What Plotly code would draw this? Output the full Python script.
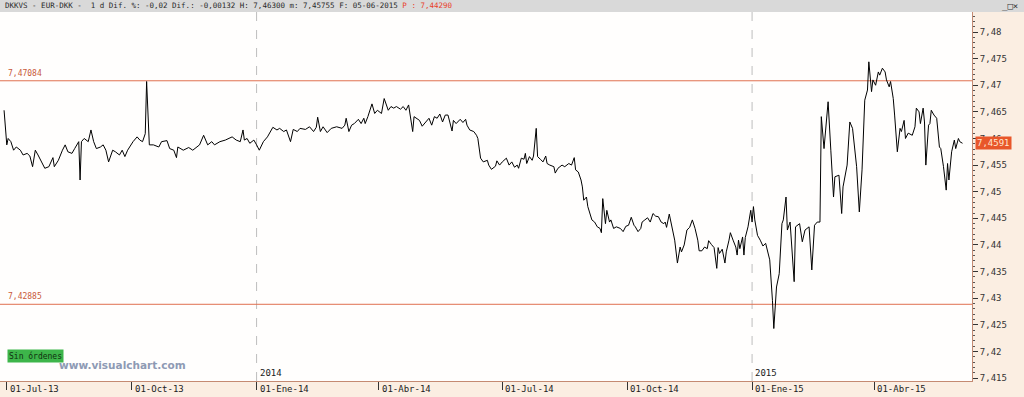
import pandas as pd
import plotly.graph_objects as go

# ---------------- data ----------------
start_date = "2013-07-01"
day_offsets = [
    -2, 0, 1, 3, 5, 7, 10, 12, 15, 17, 19, 21, 23, 26, 28, 31, 34, 35, 38, 41,
    43, 45, 48, 50, 53, 54, 55, 57, 60, 62, 64, 66, 69, 71, 73, 75, 78, 80, 83, 85,
    87, 89, 93, 96, 98, 100, 102, 103, 105, 108, 112, 114, 118, 120, 123, 125, 126, 130, 134, 137,
    140, 142, 145, 148, 151, 153, 157, 161, 166, 169, 172, 174, 175, 177, 179, 182, 184, 186, 189, 192,
    196, 199, 201, 204, 206, 209, 211, 214, 216, 220, 223, 226, 228, 229, 231, 233, 236, 239, 243, 247,
    249, 250, 252, 254, 256, 259, 261, 263, 264, 266, 269, 271, 273, 276, 278, 281, 283, 285, 287, 290,
    292, 294, 296, 298, 299, 300, 302, 304, 306, 309, 311, 313, 315, 317, 319, 321, 323, 325, 328, 329,
    331, 334, 336, 338, 339, 341, 344, 346, 347, 349, 351, 354, 355, 357, 360, 361, 363, 365, 368, 370,
    372, 374, 376, 377, 379, 381, 382, 383, 385, 387, 388, 390, 391, 393, 395, 397, 398, 400, 403, 404,
    406, 409, 411, 414, 416, 418, 419, 421, 423, 424, 425, 427, 428, 431, 433, 435, 437, 438, 439, 441,
    442, 444, 445, 447, 449, 452, 454, 456, 458, 460, 462, 463, 465, 467, 468, 470, 472, 474, 476, 478,
    480, 482, 484, 485, 486, 488, 490, 492, 494, 496, 497, 499, 501, 503, 505, 507, 509, 510, 512, 514,
    516, 517, 519, 521, 523, 524, 525, 527, 529, 530, 532, 533, 535, 537, 538, 539, 540, 542, 543, 544,
    546, 548, 549, 550, 551, 553, 555, 557, 559, 561, 562, 564, 565, 567, 569, 571, 572, 574, 575, 577,
    580, 581, 584, 586, 588, 591, 593, 595, 597, 599, 600, 602, 605, 607, 609, 610, 613, 615, 616, 619,
    621, 623, 626, 628, 630, 632, 634, 635, 637, 638, 640, 642, 643, 645, 647, 648, 650, 651, 653, 654,
    656, 658, 659, 661, 662, 664, 667, 669, 670, 672, 673, 675, 676, 677, 679, 680, 681, 683, 685, 687,
    688, 690, 692, 693, 694, 696, 698, 699, 701, 702, 704,
]
prices = [
    7.4653, 7.4588, 7.4600, 7.4594, 7.4578, 7.4584, 7.4578, 7.4569, 7.4572, 7.4567,
    7.4547, 7.4578, 7.4569, 7.4553, 7.4544, 7.4547, 7.4564, 7.4547, 7.4559, 7.4578,
    7.4588, 7.4575, 7.4572, 7.4581, 7.4594, 7.4522, 7.4594, 7.4600, 7.4594, 7.4616,
    7.4594, 7.4581, 7.4584, 7.4588, 7.4578, 7.4556, 7.4578, 7.4575, 7.4569, 7.4578,
    7.4566, 7.4578, 7.4594, 7.4603, 7.4597, 7.4594, 7.4609, 7.4707, 7.4588, 7.4588,
    7.4584, 7.4594, 7.4596, 7.4581, 7.4578, 7.4564, 7.4584, 7.4578, 7.4583, 7.4578,
    7.4584, 7.4588, 7.4606, 7.4588, 7.4594, 7.4588, 7.4594, 7.4597, 7.4603, 7.4597,
    7.4594, 7.4616, 7.4597, 7.4600, 7.4591, 7.4597, 7.4588, 7.4578, 7.4594, 7.4603,
    7.4621, 7.4616, 7.4619, 7.4613, 7.4616, 7.4594, 7.4617, 7.4613, 7.4619, 7.4617,
    7.4622, 7.4613, 7.4621, 7.4640, 7.4613, 7.4622, 7.4611, 7.4619, 7.4622, 7.4619,
    7.4625, 7.4638, 7.4613, 7.4625, 7.4628, 7.4636, 7.4628, 7.4638, 7.4628, 7.4641,
    7.4665, 7.4647, 7.4653, 7.4647, 7.4675, 7.4653, 7.4660, 7.4657, 7.4660, 7.4655,
    7.4660, 7.4653, 7.4663, 7.4628, 7.4613, 7.4641, 7.4638, 7.4634, 7.4623, 7.4631,
    7.4638, 7.4625, 7.4641, 7.4638, 7.4646, 7.4631, 7.4644, 7.4644, 7.4614, 7.4634,
    7.4628, 7.4636, 7.4630, 7.4636, 7.4625, 7.4616, 7.4613, 7.4606, 7.4600, 7.4563,
    7.4556, 7.4559, 7.4550, 7.4542, 7.4548, 7.4558, 7.4550, 7.4556, 7.4563, 7.4550,
    7.4556, 7.4546, 7.4550, 7.4544, 7.4563, 7.4561, 7.4572, 7.4553, 7.4566, 7.4559,
    7.4567, 7.4619, 7.4566, 7.4561, 7.4556, 7.4567, 7.4553, 7.4550, 7.4547, 7.4535,
    7.4544, 7.4550, 7.4547, 7.4553, 7.4550, 7.4564, 7.4541, 7.4537, 7.4522, 7.4509,
    7.4484, 7.4490, 7.4472, 7.4447, 7.4443, 7.4434, 7.4431, 7.4423, 7.4487, 7.4440,
    7.4465, 7.4443, 7.4447, 7.4431, 7.4434, 7.4431, 7.4425, 7.4435, 7.4437, 7.4452,
    7.4437, 7.4434, 7.4425, 7.4431, 7.4443, 7.4447, 7.4451, 7.4443, 7.4459, 7.4454,
    7.4453, 7.4443, 7.4440, 7.4443, 7.4433, 7.4458, 7.4431, 7.4409, 7.4366, 7.4396,
    7.4387, 7.4400, 7.4428, 7.4433, 7.4447, 7.4431, 7.4409, 7.4389, 7.4389, 7.4396,
    7.4393, 7.4408, 7.4401, 7.4395, 7.4356, 7.4395, 7.4384, 7.4392, 7.4366, 7.4387,
    7.4409, 7.4423, 7.4409, 7.4396, 7.4381, 7.4409, 7.4393, 7.4415, 7.4381, 7.4414,
    7.4434, 7.4465, 7.4443, 7.4472, 7.4447, 7.4418, 7.4409, 7.4398, 7.4403, 7.4381,
    7.4372, 7.4296, 7.4243, 7.4321, 7.4346, 7.4440, 7.4447, 7.4490, 7.4428, 7.4443,
    7.4331, 7.4434, 7.4440, 7.4406, 7.4428, 7.4434, 7.4353, 7.4437, 7.4443, 7.4443,
    7.4641, 7.4581, 7.4669, 7.4578, 7.4490, 7.4528, 7.4531, 7.4459, 7.4509, 7.4550,
    7.4631, 7.4619, 7.4547, 7.4462, 7.4541, 7.4672, 7.4691, 7.4744, 7.4688, 7.4710,
    7.4700, 7.4725, 7.4719, 7.4732, 7.4725, 7.4710, 7.4697, 7.4707, 7.4675, 7.4644,
    7.4575, 7.4619, 7.4613, 7.4634, 7.4600, 7.4610, 7.4606, 7.4622, 7.4657, 7.4650,
    7.4628, 7.4657, 7.4631, 7.4550, 7.4625, 7.4628, 7.4653, 7.4644, 7.4638, 7.4584,
    7.4581, 7.4547, 7.4503, 7.4553, 7.4522, 7.4575, 7.4597, 7.4581, 7.4600, 7.4594,
    7.4591,
]

level_values = [7.47084, 7.42885]
level_labels = ["7,47084", "7,42885"]
last_price = 7.4591
last_price_label = "7,4591"

x_tick_dates = ["2013-07-01", "2013-10-01", "2014-01-01", "2014-04-01",
                "2014-07-01", "2014-10-01", "2015-01-01", "2015-04-01"]
x_tick_labels = ["01-Jul-13", "01-Oct-13", "01-Ene-14", "01-Abr-14",
                 "01-Jul-14", "01-Oct-14", "01-Ene-15", "01-Abr-15"]
year_dates = ["2014-01-01", "2015-01-01"]
year_labels = ["2014", "2015"]

y_tick_values = [7.415, 7.42, 7.425, 7.43, 7.435, 7.44, 7.445, 7.45, 7.455,
                 7.46, 7.465, 7.47, 7.475, 7.48]
y_tick_labels = ["7,415", "7,42", "7,425", "7,43", "7,435", "7,44", "7,445",
                 "7,45", "7,455", "7,46", "7,465", "7,47", "7,475", "7,48"]

header_text = ("DKKVS - EUR-DKK -\u00a0 1 d Dif. %: -0,02 Dif.: -0,00132 H: 7,46300 "
               "m: 7,45755 F: 05-06-2015 ")
header_price = "P : 7,44290"

# ---------------- figure ----------------
dates = pd.Timestamp(start_date) + pd.to_timedelta(day_offsets, unit="D")

W, H = 1024, 397
ML, MR, MT, MB = 0, 52, 12, 16
PW, PH = W - ML - MR, H - MT - MB

MONO = "DejaVu Sans Mono"
AXIS_COL = "#C48A72"
LEVEL_COL = "#E07050"
PEACH = "#FBEEE2"

fig = go.Figure()
fig.add_trace(go.Scatter(x=dates, y=prices, mode="lines",
                         line=dict(color="#000000", width=1),
                         hoverinfo="skip", showlegend=False))

shapes = []
annotations = []

# title bar
shapes.append(dict(type="rect", xref="paper", yref="paper", x0=-0.01, x1=W / PW + 0.01,
                   y0=1, y1=1 + MT / PH, fillcolor="#D9D9D9", line=dict(width=0), layer="above"))
annotations.append(dict(xref="paper", yref="paper", x=3 / PW, y=1 + (MT / 2) / PH,
                        xanchor="left", yanchor="middle", showarrow=False,
                        text=header_text + "<span style='color:#E8402A'>" + header_price + "</span>",
                        font=dict(family=MONO, size=7.5, color="#2A2A2A")))
annotations.append(dict(xref="paper", yref="paper", x=(W - 4) / PW, y=1 + (MT / 2) / PH,
                        xanchor="right", yanchor="middle", showarrow=False,
                        text="_□×", font=dict(family=MONO, size=9, color="#333333")))

# year separators
for d, lab in zip(year_dates, year_labels):
    shapes.append(dict(type="line", xref="x", yref="paper", x0=d, x1=d, y0=0, y1=1,
                       line=dict(color="#BDBDBD", width=1, dash="dash"), layer="below"))
    annotations.append(dict(xref="x", yref="paper", x=d, y=0.003, xanchor="left",
                            yanchor="bottom", xshift=1, showarrow=False, text=lab,
                            font=dict(family=MONO, size=9, color="#222222")))

# level lines
for v, lab in zip(level_values, level_labels):
    shapes.append(dict(type="line", xref="paper", yref="y", x0=0, x1=1, y0=v, y1=v,
                       line=dict(color=LEVEL_COL, width=1), layer="below"))
    annotations.append(dict(xref="paper", yref="y", x=6 / PW, y=v, xanchor="left",
                            yanchor="bottom", yshift=1, showarrow=False, text=lab,
                            font=dict(family=MONO, size=8, color="#C85A3A")))

# x tick labels (left aligned after the tick)
for d, lab in zip(x_tick_dates, x_tick_labels):
    annotations.append(dict(xref="x", yref="paper", x=d, y=-8 / PH, xanchor="left",
                            yanchor="middle", xshift=1, showarrow=False, text=lab,
                            font=dict(family=MONO, size=9, color="#222222")))

# last price box
annotations.append(dict(xref="paper", yref="y", x=1 + 3 / PW, y=last_price, xanchor="left",
                        yanchor="middle", showarrow=False, text=last_price_label,
                        bgcolor="#E8562A", borderpad=1,
                        font=dict(family=MONO, size=9, color="#FFE6D0")))

# status box and watermark
annotations.append(dict(xref="paper", yref="paper", x=7 / PW, y=(H - MB - 356) / PH,
                        xanchor="left", yanchor="middle", showarrow=False, text="Sin órdenes",
                        bgcolor="#3DB54A", borderpad=1,
                        font=dict(family=MONO, size=8, color="#10300F")))
annotations.append(dict(xref="paper", yref="paper", x=57 / PW, y=(H - MB - 365) / PH,
                        xanchor="left", yanchor="middle", showarrow=False,
                        text="<b>www.visualchart.com</b>",
                        font=dict(family="DejaVu Sans", size=10.5, color="#8E9AB4")))

fig.update_layout(
    width=W, height=H,
    margin=dict(l=ML, r=MR, t=MT, b=MB, pad=0),
    paper_bgcolor=PEACH,
    plot_bgcolor="#FFFEFD",
    showlegend=False,
    shapes=shapes,
    annotations=annotations,
    xaxis=dict(type="date", range=["2013-06-26", "2015-06-12"],
               tickmode="array", tickvals=x_tick_dates, showticklabels=False,
               ticks="outside", ticklen=8, tickcolor="#333333", tickwidth=1,
               showgrid=False, zeroline=False,
               showline=True, linecolor=AXIS_COL, linewidth=1),
    yaxis=dict(side="right", range=[7.41444, 7.48376],
               tickmode="array", tickvals=y_tick_values, ticktext=y_tick_labels,
               ticks="outside", ticklen=5, tickcolor="#333333", tickwidth=1,
               tickfont=dict(family=MONO, size=9, color="#333333"),
               minor=dict(tickmode="linear", tick0=7.415, dtick=0.001, ticks="outside",
                          ticklen=2, tickcolor="#555555", showgrid=False),
               showgrid=False, zeroline=False,
               showline=True, linecolor=AXIS_COL, linewidth=1),
)

fig.write_html("out.html")
